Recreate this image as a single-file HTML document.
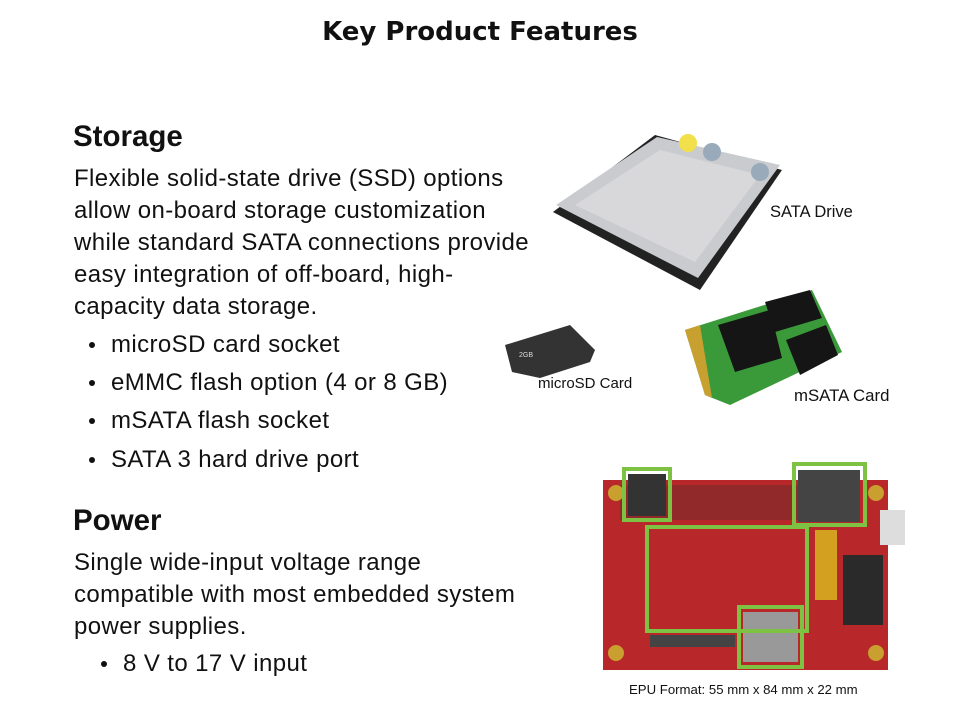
<!DOCTYPE html>
<html><head><meta charset="utf-8"><style>
body{margin:0;width:960px;height:720px;background:#fff;position:relative;overflow:hidden;font-family:"Liberation Sans",sans-serif;color:#111}
.t{position:absolute;white-space:nowrap}
.b{font-size:24px;letter-spacing:0.4px}
.dot{position:absolute;width:6px;height:6px;border-radius:50%;background:#111}
.g{position:absolute;border:4px solid #7dc242;box-sizing:border-box}
</style></head><body>
<div class="t" style="left:0;width:960px;text-align:center;top:17px;font-family:'DejaVu Sans',sans-serif;font-weight:bold;font-size:26px">Key Product Features</div>
<div class="t" style="left:73px;top:120px;font-size:29.5px;font-weight:bold">Storage</div>
<div class="t b" style="left:74px;top:163px;line-height:32px">Flexible solid-state drive (SSD) options<br>allow on-board storage customization<br>while standard SATA connections provide<br>easy integration of off-board, high-<br>capacity data storage.</div>
<div class="dot" style="left:89px;top:342px"></div><div class="t b" style="left:111px;top:331px">microSD card socket</div>
<div class="dot" style="left:89px;top:380px"></div><div class="t b" style="left:111px;top:369px">eMMC flash option (4 or 8 GB)</div>
<div class="dot" style="left:89px;top:418px"></div><div class="t b" style="left:111px;top:407px">mSATA flash socket</div>
<div class="dot" style="left:89px;top:457px"></div><div class="t b" style="left:111px;top:446px">SATA 3 hard drive port</div>
<div class="t" style="left:73px;top:504px;font-size:29.5px;font-weight:bold">Power</div>
<div class="t b" style="left:74px;top:547px;line-height:32px">Single wide-input voltage range<br>compatible with most embedded system<br>power supplies.</div>
<div class="dot" style="left:101px;top:661px"></div><div class="t b" style="left:123px;top:650px">8 V to 17 V input</div>

<svg style="position:absolute;left:0;top:0" width="960" height="720">
<polygon points="553,212 655,135 782,170 700,290" fill="#222"/>
<polygon points="556,205 657,137 780,165 698,278" fill="#c9cbcf"/>
<polygon points="575,205 660,150 760,175 695,262" fill="#d8d8da"/>
<circle cx="688" cy="143" r="9" fill="#f1e04a"/><circle cx="712" cy="152" r="9" fill="#9ab"/><circle cx="760" cy="172" r="9" fill="#9ab"/>
<polygon points="505,345 570,325 595,350 590,362 540,378 512,372" fill="#333"/>
<text x="519" y="357" font-size="7" fill="#ddd">2GB</text>
<polygon points="685,330 812,290 842,352 730,405 705,395" fill="#3a9a3a"/>
<polygon points="685,330 700,325 712,398 705,395" fill="#c8a030"/>
<polygon points="765,302 810,290 822,318 775,332" fill="#151515"/>
<polygon points="718,325 770,310 782,358 735,372" fill="#151515"/>
<polygon points="786,340 826,325 838,355 800,375" fill="#151515"/>
<rect x="603" y="480" width="285" height="190" fill="#b8282a"/>
<rect x="620" y="485" width="240" height="35" fill="#6a2a2a" opacity="0.5"/>
<rect x="843" y="555" width="40" height="70" fill="#2a2a2a"/>
<rect x="815" y="530" width="22" height="70" fill="#d4a020"/>
<rect x="650" y="635" width="85" height="12" fill="#444"/>
<rect x="880" y="510" width="25" height="35" fill="#ddd"/>
<circle cx="616" cy="493" r="8" fill="#c9a030"/><circle cx="616" cy="653" r="8" fill="#c9a030"/><circle cx="876" cy="653" r="8" fill="#c9a030"/><circle cx="876" cy="493" r="8" fill="#c9a030"/>
<rect x="628" y="474" width="38" height="42" fill="#333"/>
<rect x="798" y="470" width="62" height="52" fill="#444"/>
<rect x="743" y="612" width="55" height="50" fill="#999"/>
</svg>
<div class="g" style="left:622px;top:467px;width:50px;height:55px"></div>
<div class="g" style="left:792px;top:462px;width:75px;height:65px"></div>
<div class="g" style="left:645px;top:525px;width:164px;height:108px"></div>
<div class="g" style="left:737px;top:605px;width:67px;height:64px"></div>

<div class="t" style="left:770px;top:203px;font-size:16.5px">SATA Drive</div>
<div class="t" style="left:538px;top:375px;font-size:15px">microSD Card</div>
<div class="t" style="left:794px;top:386px;font-size:16.8px">mSATA Card</div>
<div class="t" style="left:629px;top:682px;font-size:13.2px">EPU Format: 55 mm x 84 mm x 22 mm</div>
</body></html>
